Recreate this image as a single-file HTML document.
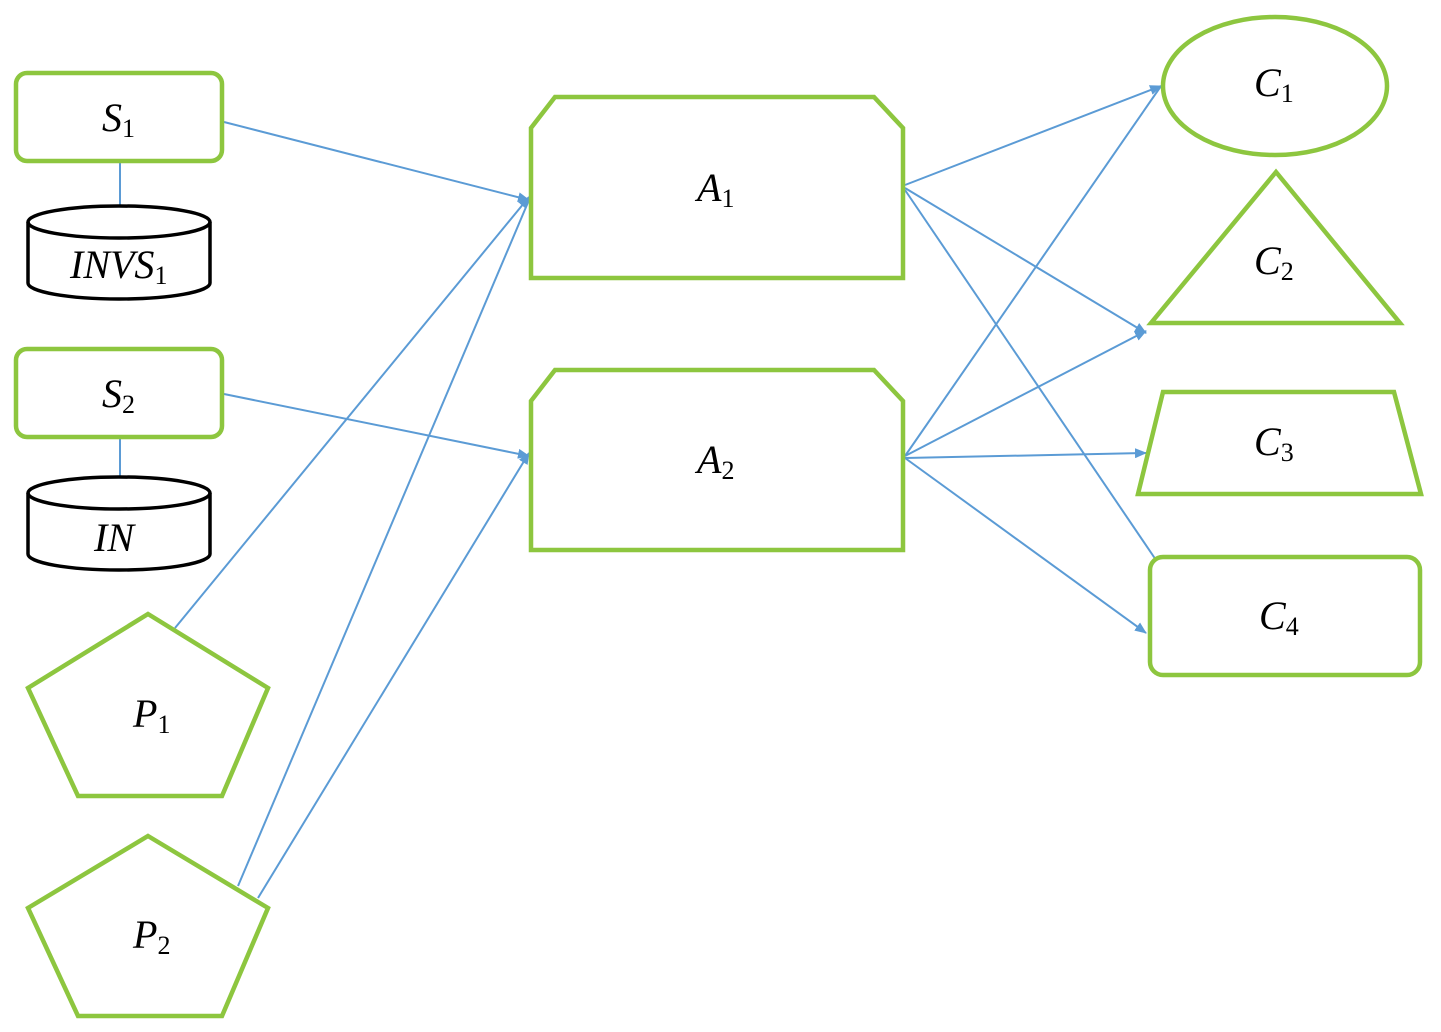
<!DOCTYPE html>
<html><head><meta charset="utf-8"><style>
html,body{margin:0;padding:0;background:#fff;}
svg{display:block;}
text{font-family:"Liberation Serif",serif;font-style:italic;font-size:40px;fill:#000;}
tspan.s{font-style:normal;font-size:26px;}
</style></head><body>
<svg width="1441" height="1032" viewBox="0 0 1441 1032" xmlns="http://www.w3.org/2000/svg">
<defs>
<marker id="ar" markerWidth="12" markerHeight="10" refX="11" refY="5" orient="auto" markerUnits="userSpaceOnUse">
<path d="M0,0 L12,5 L0,10 z" fill="#5B9BD5"/>
</marker>
</defs>
<g stroke="#5B9BD5" stroke-width="2" fill="none">
<line x1="120" y1="161" x2="120" y2="206"/>
<line x1="120" y1="437" x2="120" y2="477"/>
<line x1="224" y1="122" x2="529" y2="200" marker-end="url(#ar)"/>
<line x1="175" y1="628" x2="529" y2="197" marker-end="url(#ar)"/>
<line x1="238" y1="886" x2="529" y2="200"/>
<line x1="224" y1="394" x2="529" y2="456" marker-end="url(#ar)"/>
<line x1="258" y1="898" x2="529" y2="453" marker-end="url(#ar)"/>
<line x1="905" y1="185" x2="1161" y2="86" marker-end="url(#ar)"/>
<line x1="905" y1="188" x2="1146" y2="333" marker-end="url(#ar)"/>
<line x1="905" y1="190" x2="1156" y2="560"/>
<line x1="905" y1="456" x2="1161" y2="86"/>
<line x1="905" y1="456" x2="1146" y2="331" marker-end="url(#ar)"/>
<line x1="905" y1="458" x2="1146" y2="453" marker-end="url(#ar)"/>
<line x1="905" y1="458" x2="1146" y2="633" marker-end="url(#ar)"/>
</g>
<g stroke="#8DC63F" stroke-width="4.5" fill="none">
<rect x="16" y="73" width="206" height="88" rx="11"/>
<rect x="16" y="349" width="206" height="88" rx="11"/>
<polygon points="148,614 268,688 222,796 78,796 28,688"/>
<polygon points="148,836 268,908 222,1016 78,1016 28,908"/>
<polygon points="531,128 555,97 874,97 903,128 903,278 531,278"/>
<polygon points="531,401 555,370 874,370 903,401 903,550 531,550"/>
<ellipse cx="1275" cy="86" rx="112" ry="69"/>
<polygon points="1276,172 1151,323 1400,323"/>
<polygon points="1163,392 1394,392 1421,494 1138,494"/>
<rect x="1150" y="557" width="270" height="118" rx="13"/>
</g>
<g stroke="#000" stroke-width="3.5" fill="none">
<path d="M28,222 L28,283 A91,16 0 0 0 210,283 L210,222"/>
<ellipse cx="119" cy="222" rx="91" ry="16"/>
<path d="M28,493 L28,554 A91,16 0 0 0 210,554 L210,493"/>
<ellipse cx="119" cy="493" rx="91" ry="16"/>
</g>
<text x="102" y="131">S<tspan class="s" dy="6">1</tspan></text>
<text x="70" y="278">INVS<tspan class="s" dy="6">1</tspan></text>
<text x="102" y="407">S<tspan class="s" dy="6">2</tspan></text>
<text x="94" y="551">IN</text>
<text x="133" y="727">P<tspan class="s" dy="6">1</tspan></text>
<text x="133" y="948">P<tspan class="s" dy="6">2</tspan></text>
<text x="697" y="201">A<tspan class="s" dy="6">1</tspan></text>
<text x="697" y="473">A<tspan class="s" dy="6">2</tspan></text>
<text x="1254" y="96">C<tspan class="s" dy="6">1</tspan></text>
<text x="1254" y="274">C<tspan class="s" dy="6">2</tspan></text>
<text x="1254" y="455">C<tspan class="s" dy="6">3</tspan></text>
<text x="1259" y="629">C<tspan class="s" dy="6">4</tspan></text>
</svg>
</body></html>
